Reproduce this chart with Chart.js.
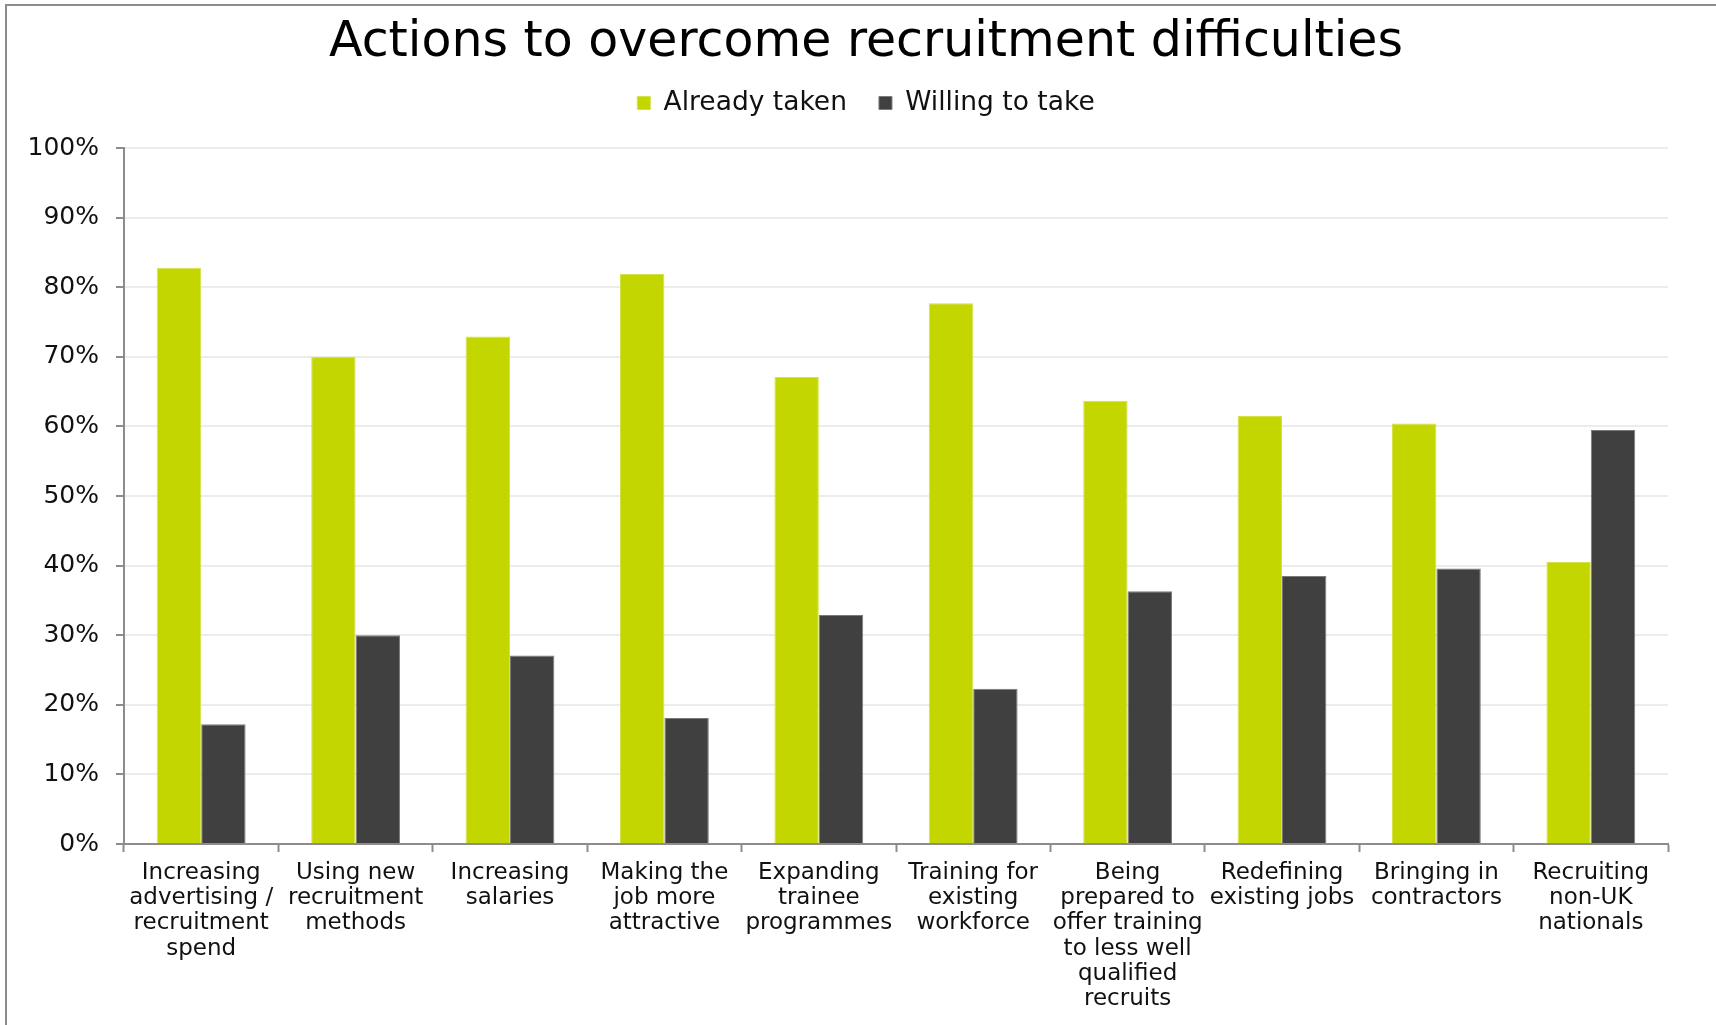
<!DOCTYPE html>
<html>
<head>
<meta charset="utf-8">
<title>Actions to overcome recruitment difficulties</title>
<script src="https://cdn.jsdelivr.net/npm/chart.js@4.4.0/dist/chart.umd.min.js"></script>
<style>
  html, body { margin: 0; padding: 0; background: #fff; overflow: hidden; }
  #wrap { position: relative; width: 1716px; height: 1025px; }
  #frame { position: absolute; left: 5px; top: 4px; width: 1720px; height: 1030px;
           border-top: 2px solid #8c8c8c; border-left: 2px solid #8c8c8c; pointer-events: none; }
</style>
</head>
<body>
<div id="wrap">
  <canvas id="actionsChart" width="1716" height="1025"></canvas>
  <div id="frame"></div>
</div>
<script>
// Survey answers, one entry per action
const categories = [
    ['Increasing', 'advertising /', 'recruitment', 'spend'],
    ['Using new', 'recruitment', 'methods'],
    ['Increasing', 'salaries'],
    ['Making the', 'job more', 'attractive'],
    ['Expanding', 'trainee', 'programmes'],
    ['Training for', 'existing', 'workforce'],
    ['Being', 'prepared to', 'offer training', 'to less well', 'qualified', 'recruits'],
    ['Redefining', 'existing jobs'],
    ['Bringing in', 'contractors'],
    ['Recruiting', 'non-UK', 'nationals']
];
const alreadyTaken = [82.8, 70.0, 72.9, 81.9, 67.1, 77.7, 63.7, 61.5, 60.4, 40.5];
const willingToTake = [17.2, 30.0, 27.1, 18.1, 32.9, 22.3, 36.3, 38.5, 39.6, 59.5];
const yTickLabels = ['0%', '10%', '20%', '30%', '40%', '50%', '60%', '70%', '80%', '90%', '100%'];

const GREEN = '#c4d600';
const DARK = '#404040';
const AXIS = '#8c8c8c';

Chart.defaults.font.family = '"DejaVu Sans", Verdana, sans-serif';
Chart.defaults.color = '#111';

const ctx = document.getElementById('actionsChart').getContext('2d');

new Chart(ctx, {
    type: 'bar',
    data: {
        labels: categories,
        datasets: [{
            label: 'Already taken',
            data: alreadyTaken,
            backgroundColor: GREEN,
            borderColor: '#d3e24a',
            borderWidth: 1,
            categoryPercentage: 0.575,
            barPercentage: 1.0
        }, {
            label: 'Willing to take',
            data: willingToTake,
            backgroundColor: DARK,
            borderColor: '#7a7a7a',
            borderWidth: 1,
            categoryPercentage: 0.575,
            barPercentage: 1.0
        }]
    },
    options: {
        responsive: false,
        animation: false,
        layout: { padding: { left: 16, right: 0, top: 0, bottom: 0 } },
        plugins: {
            title: {
                display: true,
                text: 'Actions to overcome recruitment difficulties',
                font: { size: 49, weight: 'normal', lineHeight: 1 },
                color: '#000',
                padding: { top: 18.5, bottom: -9.75 }
            },
            // empty block that keeps a gap between the legend and the plot
            subtitle: {
                display: true,
                text: '',
                weight: 500,
                font: { size: 10, lineHeight: 1 },
                padding: { top: 11.75, bottom: 0 }
            },
            legend: {
                display: true,
                labels: {
                    boxWidth: 13,
                    boxHeight: 13,
                    padding: 32,
                    font: { size: 26.5 },
                    color: '#111'
                }
            },
            tooltip: { enabled: false }
        },
        scales: {
            x: {
                grid: {
                    offset: true,
                    drawOnChartArea: false,
                    drawTicks: true,
                    tickLength: 8,
                    tickColor: AXIS,
                    tickWidth: 2
                },
                border: { color: AXIS, width: 2 },
                ticks: {
                    font: { size: 23, lineHeight: 1.1 },
                    color: '#111',
                    maxRotation: 0,
                    autoSkip: false,
                    padding: 8
                },
                afterFit(scale) {
                    scale.height = 1025 - 844;
                    scale.paddingRight = 48;
                }
            },
            y: {
                min: 0,
                max: 100,
                ticks: {
                    stepSize: 10,
                    font: { size: 25 },
                    color: '#111',
                    padding: 17,
                    callback: (value, index) => yTickLabels[index]
                },
                grid: {
                    color: '#ececec',
                    lineWidth: 2,
                    tickColor: AXIS,
                    tickWidth: 2,
                    tickLength: 8
                },
                border: { color: AXIS, width: 2 },
                afterFit(scale) {
                    scale.width = 108;
                }
            }
        }
    }
});
</script>
</body>
</html>
